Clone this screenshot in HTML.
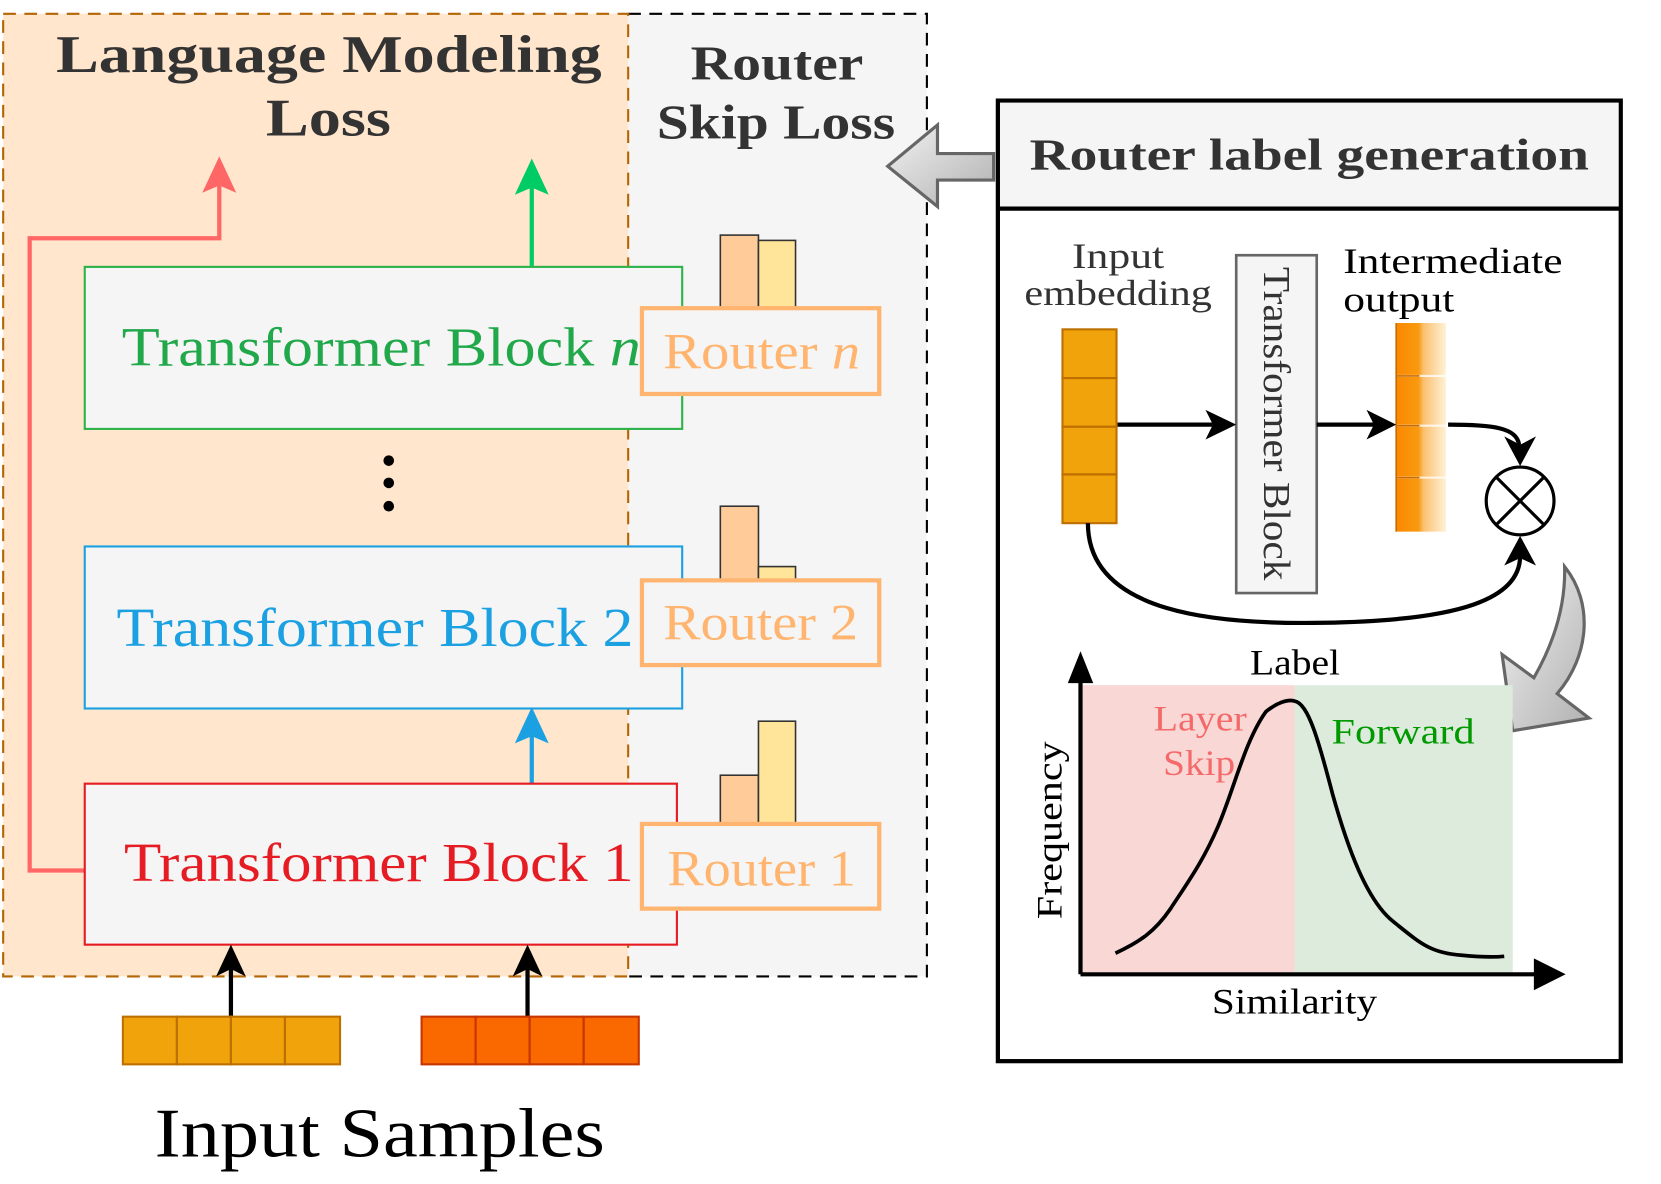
<!DOCTYPE html>
<html><head><meta charset="utf-8"><style>
html,body{margin:0;padding:0;background:#fff;}
svg{display:block;}
text{font-family:"Liberation Serif",serif;}
</style></head><body>
<svg width="1661" height="1184" viewBox="0 0 1568 1118" preserveAspectRatio="none" xmlns="http://www.w3.org/2000/svg">
<defs>
<linearGradient id="g1" x1="0" x2="1" y1="0" y2="0">
<stop offset="0" stop-color="#fa8800"/><stop offset="0.45" stop-color="#f89a10"/><stop offset="0.55" stop-color="#fcc070"/><stop offset="1" stop-color="#fff2d8"/>
</linearGradient>
<linearGradient id="g2" x1="0" x2="1" y1="0" y2="1">
<stop offset="0" stop-color="#f2f2f2"/><stop offset="1" stop-color="#b0b0b0"/>
</linearGradient>
</defs>
<rect x="593" y="13" width="282" height="909" fill="#f5f5f5"/>
<path d="M593 13 H875 V922 H593" fill="none" stroke="#000" stroke-width="2" stroke-dasharray="12 8"/>
<rect x="3" y="13" width="590" height="909" fill="#ffe6cc" stroke="#b46504" stroke-width="2" stroke-dasharray="12 8"/>

<g font-size="50" font-weight="bold" fill="#333" lengthAdjust="spacingAndGlyphs">
<text x="53" y="68" textLength="515" lengthAdjust="spacingAndGlyphs">Language Modeling</text>
<text x="251" y="128" textLength="118" lengthAdjust="spacingAndGlyphs">Loss</text>
</g>
<text x="652" y="75" font-size="46" font-weight="bold" fill="#333" textLength="163" lengthAdjust="spacingAndGlyphs">Router</text>
<text x="620" y="131" font-size="46" font-weight="bold" fill="#333" textLength="225" lengthAdjust="spacingAndGlyphs">Skip Loss</text>

<path d="M80 822 H28 V225 H207 V170" fill="none" stroke="#ff6666" stroke-width="4"/>
<path d="M193 180 L207 150 L221 180 L207 174 Z" fill="#ff6666" stroke="#ff6666" stroke-width="2"/>
<path d="M502 252 V172" fill="none" stroke="#00cc66" stroke-width="4"/>
<path d="M488 182 L502 152 L516 182 L502 176 Z" fill="#00cc66" stroke="#00cc66" stroke-width="2"/>

<rect x="80" y="252" width="564" height="153" fill="#f5f5f5" stroke="#2db34a" stroke-width="2"/>
<text x="115" y="345" font-size="52" fill="#21a84a" textLength="490" lengthAdjust="spacingAndGlyphs">Transformer Block <tspan font-style="italic">n</tspan></text>
<rect x="680" y="222" width="36" height="71" fill="#ffcc99" stroke="#333" stroke-width="1.5"/>
<rect x="716" y="227" width="35" height="66" fill="#ffe599" stroke="#333" stroke-width="1.5"/>
<rect x="606" y="291" width="224" height="81" fill="#f5f5f5" stroke="#ffb570" stroke-width="4"/>
<text x="626" y="348" font-size="48" fill="#ffb570" textLength="186" lengthAdjust="spacingAndGlyphs">Router <tspan font-style="italic">n</tspan></text>

<circle cx="367" cy="435" r="5" fill="#000"/><circle cx="367" cy="456" r="5" fill="#000"/><circle cx="367" cy="478" r="5" fill="#000"/>

<rect x="80" y="516" width="564" height="153" fill="#f5f5f5" stroke="#1ba1e2" stroke-width="2"/>
<text x="110" y="610" font-size="52" fill="#1ba1e2" textLength="488" lengthAdjust="spacingAndGlyphs">Transformer Block 2</text>
<rect x="680" y="478" width="36" height="71" fill="#ffcc99" stroke="#333" stroke-width="1.5"/>
<rect x="716" y="535" width="35" height="14" fill="#ffe599" stroke="#333" stroke-width="1.5"/>
<rect x="606" y="548" width="224" height="80" fill="#f5f5f5" stroke="#ffb570" stroke-width="4"/>
<text x="626" y="604" font-size="48" fill="#ffb570" textLength="184" lengthAdjust="spacingAndGlyphs">Router 2</text>

<path d="M502 740 V690" fill="none" stroke="#1ba1e2" stroke-width="4"/>
<path d="M488 700 L502 670 L516 700 L502 694 Z" fill="#1ba1e2" stroke="#1ba1e2" stroke-width="2"/>

<rect x="80" y="740" width="559" height="152" fill="#f5f5f5" stroke="#e51c23" stroke-width="2"/>
<text x="117" y="832" font-size="52" fill="#e51c23" textLength="481" lengthAdjust="spacingAndGlyphs">Transformer Block 1</text>
<rect x="680" y="732" width="36" height="47" fill="#ffcc99" stroke="#333" stroke-width="1.5"/>
<rect x="716" y="681" width="35" height="98" fill="#ffe599" stroke="#333" stroke-width="1.5"/>
<rect x="606" y="778" width="224" height="80" fill="#f5f5f5" stroke="#ffb570" stroke-width="4"/>
<text x="630" y="836" font-size="48" fill="#ffb570" textLength="178" lengthAdjust="spacingAndGlyphs">Router 1</text>

<path d="M218 960 V910" stroke="#000" stroke-width="4"/>
<path d="M204 922 L218 892 L232 922 L218 915 Z" fill="#000"/>
<path d="M498 960 V910" stroke="#000" stroke-width="4"/>
<path d="M484 922 L498 892 L512 922 L498 915 Z" fill="#000"/>

<g fill="#f0a30a" stroke="#bd7000" stroke-width="2">
<rect x="116" y="960" width="51" height="45"/><rect x="167" y="960" width="51" height="45"/><rect x="218" y="960" width="51" height="45"/><rect x="269" y="960" width="52" height="45"/>
</g>
<g fill="#fa6800" stroke="#c73500" stroke-width="2">
<rect x="398" y="960" width="51" height="45"/><rect x="449" y="960" width="51" height="45"/><rect x="500" y="960" width="51" height="45"/><rect x="551" y="960" width="52" height="45"/>
</g>
<text x="146" y="1092" font-size="66" fill="#000" textLength="425" lengthAdjust="spacingAndGlyphs">Input Samples</text>

<path d="M938 145 H885 V118 L838 157 L885 195 V170 H938 Z" fill="url(#g2)" stroke="#666" stroke-width="3"/>

<rect x="942" y="95" width="588" height="907" fill="#fff" stroke="#000" stroke-width="4"/>
<rect x="944" y="97" width="584" height="100" fill="#f5f5f5"/>
<line x1="942" y1="197" x2="1530" y2="197" stroke="#000" stroke-width="4"/>
<text x="972" y="160" font-size="42" font-weight="bold" fill="#333" textLength="528" lengthAdjust="spacingAndGlyphs">Router label generation</text>

<text x="1012" y="253" font-size="34" fill="#333" textLength="87" lengthAdjust="spacingAndGlyphs">Input</text>
<text x="967" y="288" font-size="34" fill="#333" textLength="177" lengthAdjust="spacingAndGlyphs">embedding</text>
<g fill="#f0a30a" stroke="#bd7000" stroke-width="2">
<rect x="1003" y="311" width="51" height="46"/><rect x="1003" y="357" width="51" height="46"/><rect x="1003" y="403" width="51" height="45"/><rect x="1003" y="448" width="51" height="46"/>
</g>
<rect x="1167" y="241" width="76" height="319" fill="#f5f5f5" stroke="#666" stroke-width="2.5"/>
<text transform="translate(1193 252) rotate(90)" font-size="36" fill="#333" textLength="296" lengthAdjust="spacingAndGlyphs">Transformer Block</text>
<text x="1268" y="258" font-size="34" fill="#000" textLength="207" lengthAdjust="spacingAndGlyphs">Intermediate</text>
<text x="1268" y="294" font-size="34" fill="#000" textLength="105" lengthAdjust="spacingAndGlyphs">output</text>
<rect x="1318" y="305" width="47" height="197" fill="url(#g1)"/>
<g stroke="#fff" stroke-width="2" opacity="0.8"><line x1="1318" y1="355" x2="1365" y2="355"/><line x1="1318" y1="402" x2="1365" y2="402"/><line x1="1318" y1="451" x2="1365" y2="451"/></g>
<path d="M1318 305 V502 M1318 355 H1340 M1318 402 H1340 M1318 451 H1340" stroke="#c96a00" stroke-width="1.5" fill="none"/>

<g stroke="#000" stroke-width="4" fill="none">
<path d="M1055 401 H1145"/>
<path d="M1243 401 H1298"/>
<path d="M1367 401 C1410 401 1432 404 1434 420"/>
<path d="M1027 494 C1027 580 1150 590 1250 588 C1380 586 1435 565 1435 525"/>
</g>
<path d="M1138 387 L1167 401 L1138 415 L1145 401 Z" fill="#000"/>
<path d="M1290 387 L1318 401 L1290 415 L1297 401 Z" fill="#000"/>
<path d="M1420 412 L1435 440 L1450 412 L1435 420 Z" fill="#000"/>
<path d="M1420 534 L1435 506 L1450 534 L1435 527 Z" fill="#000"/>
<circle cx="1435" cy="473" r="32" fill="#fff" stroke="#000" stroke-width="3"/>
<path d="M1412 450 L1458 496 M1458 450 L1412 496" stroke="#000" stroke-width="3"/>

<path d="M1477 535 C1505 570 1500 620 1470 655 L1500 678 L1428 690 L1418 618 L1448 640 C1468 605 1478 570 1477 535 Z" fill="url(#g2)" stroke="#666" stroke-width="3"/>

<rect x="1022" y="647" width="200" height="271" fill="#f8d7d5"/>
<rect x="1222" y="647" width="206" height="271" fill="#dcebdc"/>
<text x="1180" y="637" font-size="34" fill="#000" textLength="85" lengthAdjust="spacingAndGlyphs">Label</text>
<text x="1089" y="690" font-size="34" fill="#f46a6a" textLength="88" lengthAdjust="spacingAndGlyphs">Layer</text>
<text x="1098" y="732" font-size="34" fill="#f46a6a" textLength="68" lengthAdjust="spacingAndGlyphs">Skip</text>
<text x="1257" y="702" font-size="34" fill="#009900" textLength="135" lengthAdjust="spacingAndGlyphs">Forward</text>
<path d="M1053 900 C1075 890 1090 880 1105 858 C1120 835 1135 815 1150 780 C1165 745 1175 700 1195 672 C1205 664 1215 660 1222 662 C1235 664 1245 700 1258 750 C1272 800 1290 850 1315 870 C1340 890 1350 900 1380 902 C1400 904 1410 904 1420 903" fill="none" stroke="#000" stroke-width="3.5"/>
<path d="M1020 920 V640 M1020 920 H1455" stroke="#000" stroke-width="4" fill="none"/>
<path d="M1008 645 L1020 615 L1032 645 Z" fill="#000"/>
<path d="M1448 905 L1478 920 L1448 935 Z" fill="#000"/>
<text transform="translate(1002 868) rotate(-90)" font-size="34" fill="#000" textLength="168" lengthAdjust="spacingAndGlyphs">Frequency</text>
<text x="1144" y="957" font-size="34" fill="#000" textLength="156" lengthAdjust="spacingAndGlyphs">Similarity</text>
</svg>
</body></html>
